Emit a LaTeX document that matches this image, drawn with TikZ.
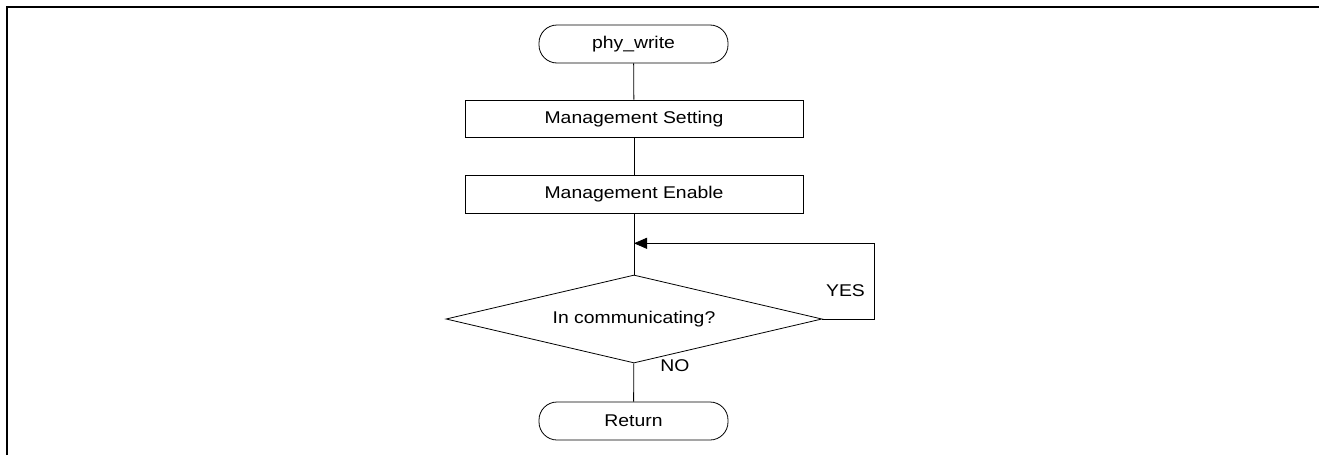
\documentclass[tikz,border=0pt]{standalone}
\usepackage{fontspec}
\setmainfont{Liberation Sans}[FakeStretch=1.14]
\usetikzlibrary{shapes.geometric,arrows.meta}
\tikzset{
  every node/.style={font=\fontsize{17}{20}\selectfont, text=black},
  term/.style={draw, line width=0.8pt, rectangle, rounded corners=18pt, minimum width=189pt, minimum height=38pt, inner sep=0pt},
  proc/.style={draw, line width=0.8pt, rectangle, minimum width=338pt, minimum height=37.5pt, inner sep=0pt},
  decis/.style={draw, line width=0.8pt, diamond, aspect=4.27, minimum width=376pt, minimum height=88pt, inner sep=0pt},
  conn/.style={draw, line width=0.8pt},
  lbl/.style={inner sep=0pt}
}
\begin{document}
\begin{tikzpicture}[x=1pt,y=-1pt]
\useasboundingbox (0,0) rectangle (1319,455);
\draw[line width=1.6pt] (7,455) -- (7,7) -- (1319,7);
\node[term] (start) at (633.5,44) {phy\_write};
\node[proc] (set) at (634,118.7) {Management Setting};
\node[proc] (en) at (634,194.3) {Management Enable};
\node[decis] (dec) at (634,319) {In communicating?};
\node[term] (ret) at (633.5,421) {Return};
\coordinate (j) at (634,243.3);
\coordinate (r) at (874.3,243.3);
\node[lbl] (yes) at (845.5,291) {YES};
\node[lbl] (no) at (675,366) {NO};
\draw[conn] (start) -- (set);
\draw[conn] (set) -- (en);
\draw[conn] (en) -- (dec);
\draw[conn] (dec) -- (ret);
\draw[conn, -{Triangle[length=13pt,width=11pt]}] (dec.east) -| (r) -- (j);
\end{tikzpicture}
\end{document}
